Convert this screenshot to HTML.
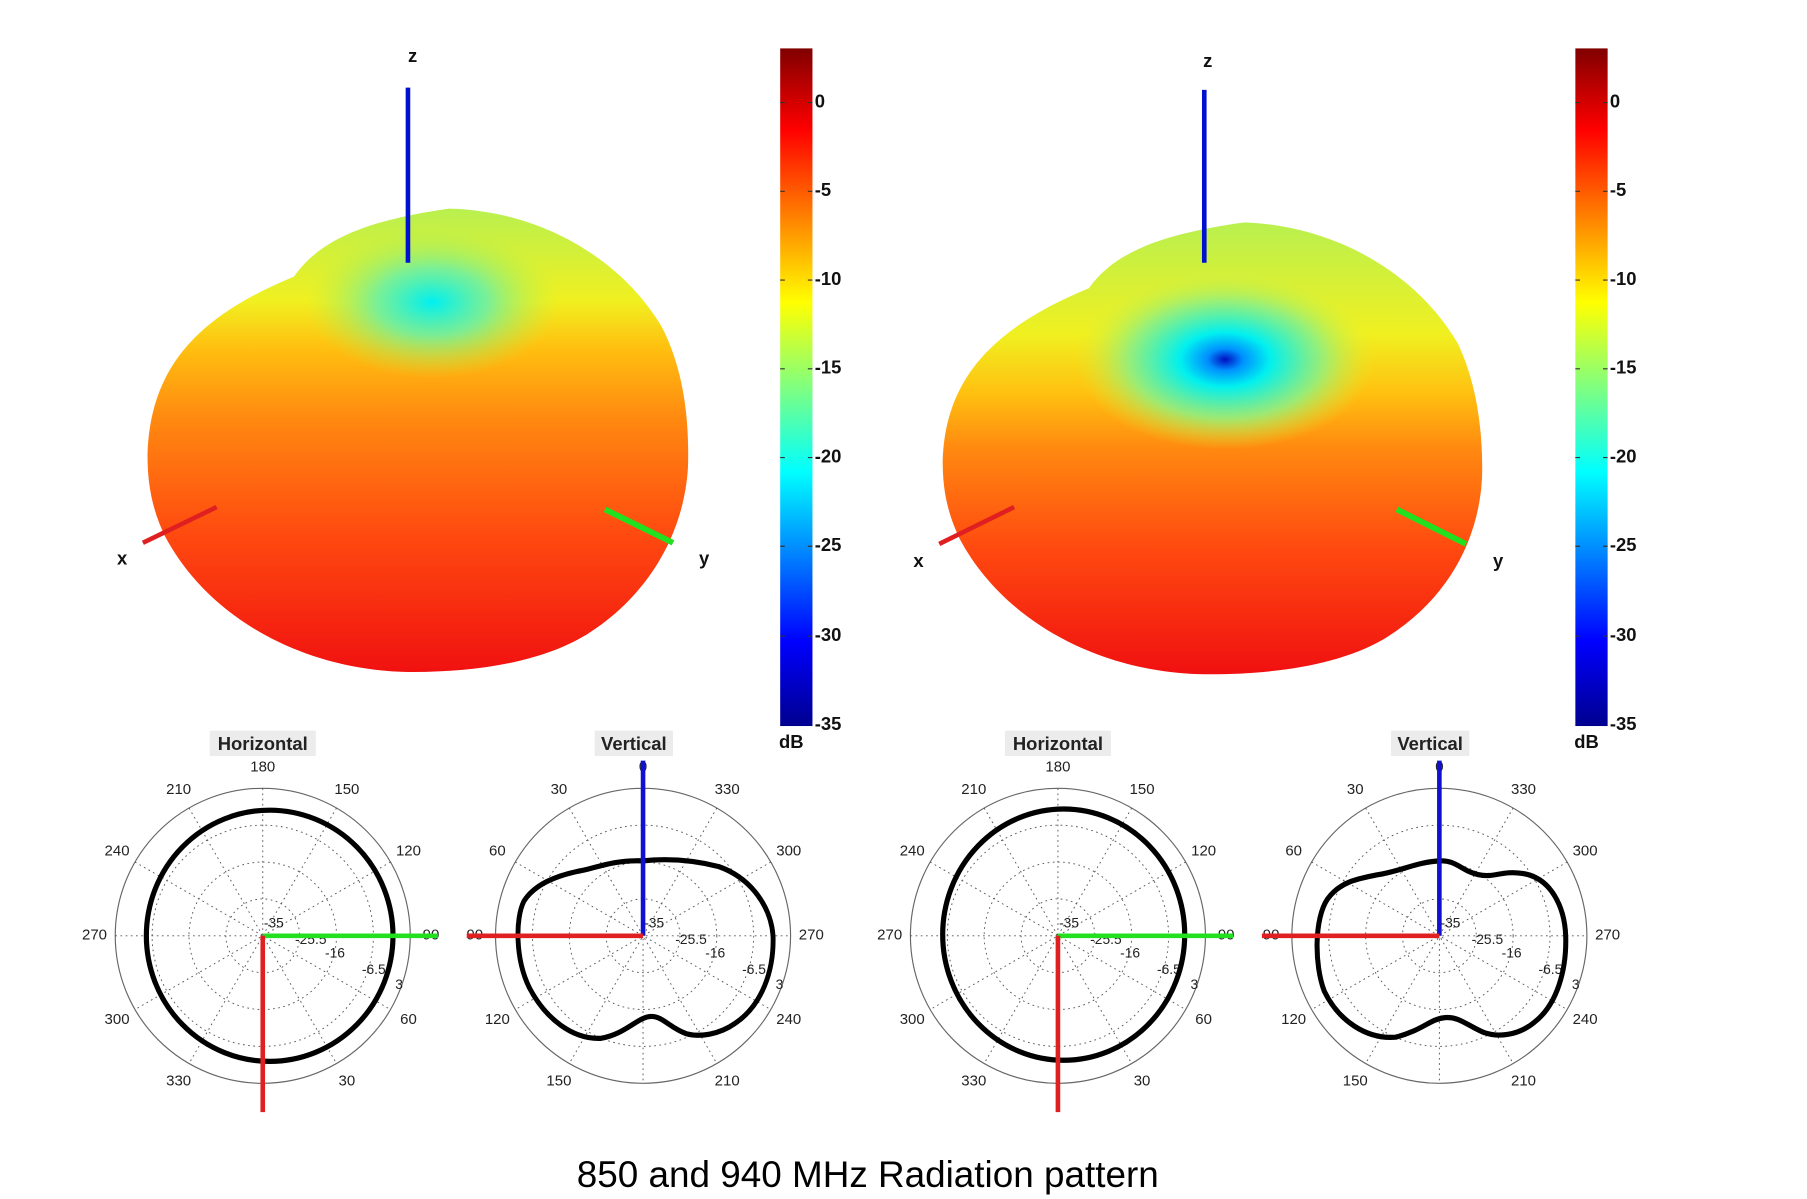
<!DOCTYPE html>
<html><head><meta charset="utf-8"><style>
html,body{margin:0;padding:0;background:#fff;}
svg{display:block;}
text{font-family:"Liberation Sans",Arial,sans-serif;}
.al{font-size:13px;fill:#222;text-anchor:middle;dominant-baseline:middle;}
.rl{font-size:12px;fill:#222;}
.cb{font-size:16px;font-weight:bold;fill:#111;dominant-baseline:middle;}
.ax{font-size:16px;font-weight:bold;fill:#111;text-anchor:middle;}
</style></head><body>
<svg width="1807" height="1199" viewBox="0 0 1568 1040.4" preserveAspectRatio="none" xmlns="http://www.w3.org/2000/svg">
<defs>
<linearGradient id="jet" x1="0" y1="0" x2="0" y2="1">
<stop offset="0" stop-color="#800000"/><stop offset="0.12" stop-color="#ff0000"/>
<stop offset="0.375" stop-color="#ffff00"/><stop offset="0.625" stop-color="#00ffff"/>
<stop offset="0.875" stop-color="#0000ff"/><stop offset="1" stop-color="#00008f"/>
</linearGradient>
<linearGradient id="body1" x1="0" y1="180" x2="0" y2="585" gradientUnits="userSpaceOnUse">
<stop offset="0" stop-color="#b8f050"/><stop offset="0.2" stop-color="#f0f020"/>
<stop offset="0.3" stop-color="#ffc010"/><stop offset="0.45" stop-color="#ff8a10"/>
<stop offset="0.7" stop-color="#ff4a10"/><stop offset="1" stop-color="#f01010"/>
</linearGradient>
<radialGradient id="spot1" cx="375" cy="262" r="110" gradientUnits="userSpaceOnUse" gradientTransform="translate(375 262) scale(1 0.6) translate(-375 -262)">
<stop offset="0" stop-color="#00f0f0"/><stop offset="0.45" stop-color="#70f0a0" stop-opacity="0.9"/><stop offset="1" stop-color="#c0f040" stop-opacity="0"/>
</radialGradient>
<radialGradient id="spot2" cx="1063" cy="312" r="130" gradientUnits="userSpaceOnUse" gradientTransform="translate(1063 312) scale(1 0.6) translate(-1063 -312)">
<stop offset="0" stop-color="#0010c0"/><stop offset="0.12" stop-color="#0090ff"/><stop offset="0.3" stop-color="#00f0f0"/><stop offset="0.65" stop-color="#90f080" stop-opacity="0.9"/><stop offset="1" stop-color="#e0f030" stop-opacity="0"/>
</radialGradient>
<linearGradient id="body2" x1="0" y1="192" x2="0" y2="585" gradientUnits="userSpaceOnUse">
<stop offset="0" stop-color="#b8f050"/><stop offset="0.25" stop-color="#f0f020"/>
<stop offset="0.38" stop-color="#ffc010"/><stop offset="0.5" stop-color="#ff8a10"/>
<stop offset="0.72" stop-color="#ff4a10"/><stop offset="1" stop-color="#f01010"/>
</linearGradient>
</defs>

<!-- Left 3D -->
<path id="b1" d="M128,395 C130,320 170,275 255,240 C275,212 310,192 390,181 C470,183 540,225 575,285 C595,325 598,370 597,405 C594,460 565,515 510,550 C470,575 410,584 350,583 C260,580 180,535 143,465 C132,442 128,420 128,395 Z" fill="url(#body1)"/>
<path d="M128,395 C130,320 170,275 255,240 C275,212 310,192 390,181 C470,183 540,225 575,285 C595,325 598,370 597,405 C594,460 565,515 510,550 C470,575 410,584 350,583 C260,580 180,535 143,465 C132,442 128,420 128,395 Z" fill="url(#spot1)"/>
<line x1="354" y1="76" x2="354" y2="228" stroke="#0010d0" stroke-width="4"/>
<line x1="124" y1="471" x2="188" y2="440" stroke="#e02020" stroke-width="4"/>
<line x1="525" y1="442" x2="584" y2="471" stroke="#20e020" stroke-width="5"/>
<text class="ax" x="358" y="54">z</text><text class="ax" x="106" y="490">x</text><text class="ax" x="611" y="490">y</text>

<!-- Right 3D -->
<path d="M818,400 C820,330 860,285 945,250 C965,222 1000,204 1080,193 C1160,196 1230,238 1265,298 C1284,338 1287,385 1286,415 C1283,470 1255,522 1200,555 C1160,578 1100,586 1040,585 C950,582 870,537 833,468 C822,445 818,425 818,400 Z" fill="url(#body2)"/>
<path d="M818,400 C820,330 860,285 945,250 C965,222 1000,204 1080,193 C1160,196 1230,238 1265,298 C1284,338 1287,385 1286,415 C1283,470 1255,522 1200,555 C1160,578 1100,586 1040,585 C950,582 870,537 833,468 C822,445 818,425 818,400 Z" fill="url(#spot2)"/>
<line x1="1045" y1="78" x2="1045" y2="228" stroke="#0010d0" stroke-width="4"/>
<line x1="815" y1="472" x2="880" y2="440" stroke="#e02020" stroke-width="4"/>
<line x1="1212" y1="442" x2="1272" y2="472" stroke="#20e020" stroke-width="5"/>
<text class="ax" x="1048" y="58">z</text><text class="ax" x="797" y="492">x</text><text class="ax" x="1300" y="492">y</text>

<!-- Colorbars -->
<rect x="677" y="42" width="28" height="588" fill="url(#jet)"/>
<rect x="1367" y="42" width="28" height="588" fill="url(#jet)"/>
<g stroke="#333" stroke-width="1">
<path d="M677,89h4M701,89h4M677,166h4M701,166h4M677,243h4M701,243h4M677,320h4M701,320h4M677,397h4M701,397h4M677,474h4M701,474h4M677,552h4M701,552h4"/>
<path d="M1367,89h4M1391,89h4M1367,166h4M1391,166h4M1367,243h4M1391,243h4M1367,320h4M1391,320h4M1367,397h4M1391,397h4M1367,474h4M1391,474h4M1367,552h4M1391,552h4"/>
</g>
<g class="cb">
<text x="707" y="89">0</text><text x="707" y="166">-5</text><text x="707" y="243">-10</text><text x="707" y="320">-15</text><text x="707" y="397">-20</text><text x="707" y="474">-25</text><text x="707" y="552">-30</text><text x="707" y="629">-35</text><text x="676" y="645">dB</text>
<text x="1397" y="89">0</text><text x="1397" y="166">-5</text><text x="1397" y="243">-10</text><text x="1397" y="320">-15</text><text x="1397" y="397">-20</text><text x="1397" y="474">-25</text><text x="1397" y="552">-30</text><text x="1397" y="629">-35</text><text x="1366" y="645">dB</text>
</g>

<!-- Polar grids -->
<g id="grids" fill="none" stroke="#555" stroke-width="0.8">
</g>
<script>
(function(){
var ns="http://www.w3.org/2000/svg",svg=document.querySelector('svg'),g=document.getElementById('grids');
var cs=[[228,812,'H'],[558,812,'V'],[918,812,'H'],[1249,812,'V']];
function el(t,a,p){var e=document.createElementNS(ns,t);for(var k in a)e.setAttribute(k,a[k]);(p||g).appendChild(e);return e;}
cs.forEach(function(c){
 var x=c[0],y=c[1];
 el('circle',{cx:x,cy:y,r:128,stroke:'#666','stroke-width':1});
 [32,64,96].forEach(function(r){el('circle',{cx:x,cy:y,r:r,'stroke-dasharray':'1.5 3'});});
 for(var a=0;a<180;a+=30){var t=a*Math.PI/180;el('line',{x1:x-128*Math.cos(t),y1:y-128*Math.sin(t),x2:x+128*Math.cos(t),y2:y+128*Math.sin(t),'stroke-dasharray':'1.5 3'});}
 var labs=c[2]=='H'?['90','60','30','','330','300','270','240','210','180','150','120']:['270','240','210','','150','120','90','60','30','0','330','300'];
 for(var i=0;i<12;i++){if(!labs[i])continue;var t=i*30*Math.PI/180;var tx=el('text',{'class':'al',x:x+146*Math.cos(t),y:y+146*Math.sin(t)},svg);tx.textContent=labs[i];}
 [['-35',x+1,y-7],['-25.5',x+28,y+7],['-16',x+54,y+19],['-6.5',x+86,y+33],['3',x+115,y+46]].forEach(function(l){var tx=el('text',{'class':'rl',x:l[1],y:l[2]},svg);tx.textContent=l[0];});
});
})();
</script>

<!-- Titles -->
<rect x="182" y="634" width="92" height="22" fill="#ececec"/><text x="228" y="651" font-size="16" font-weight="bold" text-anchor="middle" fill="#222">Horizontal</text>
<rect x="516" y="634" width="68" height="22" fill="#ececec"/><text x="550" y="651" font-size="16" font-weight="bold" text-anchor="middle" fill="#222">Vertical</text>
<rect x="872" y="634" width="92" height="22" fill="#ececec"/><text x="918" y="651" font-size="16" font-weight="bold" text-anchor="middle" fill="#222">Horizontal</text>
<rect x="1207" y="634" width="68" height="22" fill="#ececec"/><text x="1241" y="651" font-size="16" font-weight="bold" text-anchor="middle" fill="#222">Vertical</text>

<!-- Patterns -->
<g fill="none" stroke="#000" stroke-width="4.5" stroke-linejoin="round">
<ellipse cx="234" cy="812" rx="107" ry="109"/>
<ellipse cx="923" cy="811" rx="105" ry="109"/>
<path transform="translate(558 812) scale(0.94 1)" d="M0,-65 C20,-67 45,-66 70,-60 C100,-50 118,-25 120,0 C121,30 110,60 85,76 C70,86 52,88 40,85 C25,80 18,70 8,70 C-5,70 -15,85 -39,89 C-65,90 -90,72 -105,45 C-118,20 -118,-15 -110,-30 C-100,-45 -80,-52 -60,-56 C-45,-58 -30,-66 0,-65 Z"/>
<path transform="translate(1249 812) scale(0.97 1)" d="M0,-65 C15,-66 20,-56 35,-53 C50,-50 55,-57 75,-54 C100,-50 112,-25 113,0 C114,30 105,60 85,75 C70,87 52,88 40,84 C25,78 18,70 5,71 C-8,72 -15,82 -39,88 C-65,90 -90,74 -103,48 C-112,25 -112,-15 -100,-32 C-88,-48 -70,-50 -55,-53 C-35,-56 -20,-64 0,-65 Z"/>
</g>

<!-- Polar axes -->
<g stroke-width="4">
<line x1="228" y1="812" x2="380" y2="812" stroke="#20e020"/>
<line x1="228" y1="812" x2="228" y2="965" stroke="#e02020"/>
<line x1="558" y1="812" x2="558" y2="660" stroke="#1010d0"/>
<line x1="558" y1="812" x2="405" y2="812" stroke="#e02020"/>
<line x1="918" y1="812" x2="1070" y2="812" stroke="#20e020"/>
<line x1="918" y1="812" x2="918" y2="965" stroke="#e02020"/>
<line x1="1249" y1="812" x2="1249" y2="660" stroke="#1010d0"/>
<line x1="1249" y1="812" x2="1095" y2="812" stroke="#e02020"/>
</g>

<text x="753" y="1030" font-size="32" text-anchor="middle" fill="#000">850 and 940 MHz Radiation pattern</text>
</svg>
</body></html>
